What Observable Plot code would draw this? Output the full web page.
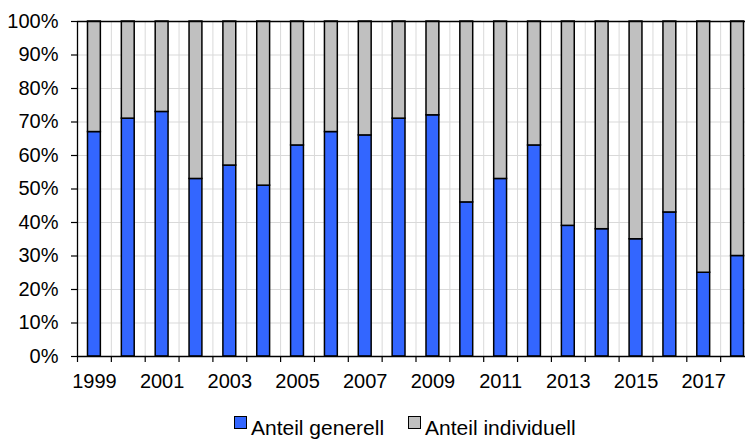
<!DOCTYPE html>
<html>
<head>
<meta charset="utf-8">
<script src="https://cdn.jsdelivr.net/npm/d3@7"></script>
<script src="https://cdn.jsdelivr.net/npm/@observablehq/plot@0.6"></script>
<style>
  html, body { margin: 0; padding: 0; background: white; overflow: hidden; }
  #wrap { position: relative; width: 745px; height: 439px; font-family: "Liberation Sans", Arial, sans-serif; }
  #legend { position: absolute; top: 416px; left: 234px; display: flex; align-items: flex-start; font-size: 21px; line-height: 24px; color: black; white-space: nowrap; }
  .item { display: flex; align-items: flex-start; margin-right: 24px; }
  .sw { width: 11px; height: 11px; border: 1.5px solid black; margin-top: 0px; margin-right: 4px; }
</style>
</head>
<body>
<div id="wrap"><div id="chart"></div><div id="legend"></div></div>
<script>
const years = [1999,2000,2001,2002,2003,2004,2005,2006,2007,2008,2009,2010,2011,2012,2013,2014,2015,2016,2017,2018];
const generell   = [67,71,73,53,57,51,63,67,66,71,72,46,53,63,39,38,35,43,25,30];
const individuell= [33,29,27,47,43,49,37,33,34,29,28,54,47,37,61,62,65,57,75,70];
const seriesNames = ["Anteil generell", "Anteil individuell"];
const seriesColors = ["#3366ff", "#c0c0c0"];
const yTicks = [0,0.1,0.2,0.3,0.4,0.5,0.6,0.7,0.8,0.9,1];
const labelYears = years.filter(y => y % 2 === 1);

const rows = [];
years.forEach((y, i) => rows.push({year: y, series: seriesNames[0], value: generell[i] / 100}));
years.forEach((y, i) => rows.push({year: y, series: seriesNames[1], value: individuell[i] / 100}));

const x0 = 77, x1 = 754;
const step = (x1 - x0) / years.length;

const chart = Plot.plot({
  width: 745,
  height: 400,
  marginTop: 21,
  marginBottom: 44,
  marginLeft: 77,
  marginRight: 0,
  style: {fontFamily: "Liberation Sans, Arial, sans-serif", color: "black", background: "white"},
  x: {type: "band", domain: years, range: [x0, x1], paddingInner: 0.62, paddingOuter: 0.31, round: false, axis: null, label: null},
  y: {domain: [0, 1], axis: null, label: null},
  color: {domain: seriesNames, range: seriesColors},
  marks: [
    Plot.ruleY(yTicks.slice(1, -1), {stroke: "#d9d9d9", strokeWidth: 1}),
    Plot.ruleX(years.slice(1), {x: d => d, dx: -step / 2, stroke: "#d9d9d9", strokeWidth: 1}),
    Plot.barY(rows, {x: "year", y: "value", fill: "series", stroke: "black", strokeWidth: 1.5}),
    Plot.ruleY([0, 1], {stroke: "black", strokeWidth: 1.3}),
    Plot.ruleX([years[0]], {x: d => d, dx: -step / 2, stroke: "black", strokeWidth: 1.3}),
    Plot.axisY({ticks: yTicks, tickFormat: d3.format(".0%"), tickSize: 6, tickPadding: 13, fontSize: 20, stroke: "black", strokeWidth: 1.2, label: null}),
    Plot.axisX({ticks: years, tickFormat: () => "", tickSize: 6, dx: -step / 2, stroke: "black", strokeWidth: 1.2, label: null}),
    Plot.axisX({ticks: labelYears, tickFormat: d => String(d), tickSize: 0, tickPadding: 17, fontSize: 20, label: null})
  ]
});
document.getElementById("chart").appendChild(chart);

const legend = document.getElementById("legend");
seriesNames.forEach((name, i) => {
  const item = document.createElement("div");
  item.className = "item";
  const sw = document.createElement("div");
  sw.className = "sw";
  sw.style.background = seriesColors[i];
  const t = document.createElement("span");
  t.textContent = name;
  item.appendChild(sw);
  item.appendChild(t);
  legend.appendChild(item);
});
</script>
</body>
</html>
